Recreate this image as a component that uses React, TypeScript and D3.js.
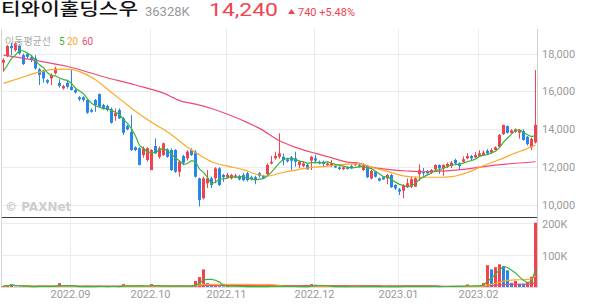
import React from 'react';
import * as d3 from 'd3';

const W = 594;
const H = 304;

const opens = [17520,17870,18400,18190,18400,17920,17980,17800,17750,17170,17090,16600,16690,16960,16460,16160,16460,16250,16080,15690,15690,15550,15020,15550,15860,15280,15230,15060,14700,15020,14580,14170,13870,13050,13000,12640,12380,11850,13120,12550,12640,12940,12910,12910,11760,12590,12470,12910,12820,11410,10360,11150,11410,11410,11940,11590,11470,11410,11500,11530,11590,11680,11470,11470,11680,11530,11640,12200,12470,12550,12550,12420,12520,12470,12120,12060,12120,12350,12470,12290,12290,12120,12060,12060,11990,11890,11990,12060,12120,12110,11850,12060,11410,11760,11410,11470,11410,11590,11060,10830,10760,10970,10970,10970,11640,11760,11790,11710,11890,12120,11940,12030,12060,12380,12200,12290,12470,12590,12520,12590,12640,12870,12770,12910,13080,13750,14170,13820,13870,13820,13910,13610,13050,13310];
const highs = [17750,18450,18570,18600,18500,18000,18050,17900,17920,17250,17150,16650,16950,17300,16650,16350,16550,17130,16150,15750,15750,15600,15100,15600,15900,15350,15300,15150,15100,15100,14650,14250,14750,13100,13050,13100,13050,12950,13520,13100,13300,13000,13000,12950,12350,12650,12900,13000,12900,11450,11500,11850,11500,12000,12000,11650,11700,11650,11650,11600,11700,11750,11550,11550,11750,11600,12200,12600,12820,13790,12720,12500,12600,12820,12350,12300,12200,12600,12650,12350,12350,12250,12380,12100,12050,12050,12050,12150,12250,12200,12200,12120,11850,11800,11450,11500,11650,11650,11100,10900,11100,11400,11500,11500,12150,11960,11850,11900,12150,12150,12150,12250,12330,12450,12250,12570,12740,12650,12800,12900,12880,12960,13000,13100,13750,14250,14200,14000,14050,14000,14000,13650,13560,17130];
const lows = [17040,17820,17920,18100,17950,17400,17750,17550,17150,16340,16460,16400,16340,16900,16200,16100,16150,16050,15880,15500,15450,14820,14880,14930,15150,15050,14950,14300,14450,14550,13700,13950,12850,12850,12100,12500,12300,11850,12700,12450,12600,12500,11800,11700,11500,12150,12350,12600,11450,9920,10300,10900,10900,11150,11000,11230,11400,11350,11450,11300,11250,11250,11300,11100,11450,11380,11600,12150,12400,12450,12100,12250,11850,12030,11950,12000,11850,11850,12200,12150,12000,12050,12000,11950,11850,11850,11880,11900,12050,11990,11800,11430,11350,11450,11250,11330,11100,10900,10800,10530,10360,10900,10900,10950,11280,11550,11600,11650,11850,11650,11550,11950,11950,12150,11850,12250,12420,12380,12470,12550,12600,12650,12720,12880,13050,13700,13780,13780,13820,13500,13400,13150,12900,13250];
const closes = [17660,18400,18290,18540,18010,17450,17830,17660,17220,16870,16690,16480,16870,17220,16290,16290,16250,16080,15950,15580,15550,14880,14930,15280,15190,15110,15020,14350,14850,14580,13820,14000,12910,12910,12120,13000,13000,12910,12730,13000,13260,12550,11850,11760,12290,12240,12820,12640,11500,10270,11410,11410,11060,11940,11060,11470,11590,11590,11560,11360,11320,11320,11360,11320,11530,11430,12120,12290,12590,12730,12380,12310,12340,12290,12290,12200,11890,12550,12350,12200,12170,12200,12200,11990,11910,11990,11910,11960,12200,12030,12110,11470,11810,11500,11290,11360,11590,10940,10880,10710,11060,11150,11360,11410,11850,11680,11680,11850,12120,11940,12120,12170,12240,12200,12060,12420,12590,12470,12640,12730,12770,12730,12910,13050,13700,14230,13820,13950,14000,13950,13440,13220,13500,14240];
const volumes = [3000,5000,9000,1500,1200,2000,1000,1500,1300,5000,1500,1200,1800,5000,12000,1500,1000,2000,1200,1000,1500,2500,1000,1200,2000,1000,800,2500,1500,1200,9000,2000,5000,1500,2500,5000,2000,9000,2000,2500,1800,3000,4500,4000,3500,2000,2500,3000,19000,31000,55000,12000,3000,4000,2500,2000,5000,1500,1000,1200,2000,1500,1000,1200,800,1000,2500,2000,1500,3000,1500,1000,1200,1500,1000,800,1000,9000,7000,1500,1200,1000,1500,800,600,900,700,800,1000,700,1200,2000,1500,1000,800,600,1000,2000,1500,1800,2500,1500,2000,1800,3000,1500,1000,1200,2000,1500,1800,1500,2000,1500,1800,2500,8000,2000,2500,3000,12000,68000,55000,62000,71000,65000,52000,13000,19000,10000,9500,16000,32000,201000];
const priorCloses = [16800, 16540, 17690, 16710];

const ma20Idx = [0,4,8,12,16,19,23,27,30,33,37,40,43,46,49,52,56,60,63,66,69,73,77,81,85,89,92,96,100,104,109,112,116,119,122,125,128,130,133];
const ma20Val = [16430,16700,16970,17150,17180,17050,16620,15950,15450,14950,14370,14000,13560,13050,12650,12290,12060,11870,11640,11530,11680,11850,11990,12060,12150,12180,12000,11780,11540,11470,11470,11500,11720,11990,12250,12480,12760,12900,13170];
const ma60Idx = [0,8,16,25,33,40,44,48,52,56,60,64,69,73,78,81,86,89,92,96,101,105,109,113,117,121,126,133];
const ma60Val = [17920,17640,17320,16780,16340,15910,15520,15330,15100,14800,14450,14050,13400,13050,12730,12560,12270,12200,12000,11890,11800,11760,11790,11850,11940,12060,12170,12290];

const monthIdx = [17, 37, 56, 78, 99, 119];
const monthLabels = ['2022.09', '2022.10', '2022.11', '2022.12', '2023.01', '2023.02'];
const priceTicks = [10000, 12000, 14000, 16000, 18000];
const volTicks = [100000, 200000];
const volTickLabels = ['100K', '200K'];

const RED = '#f2424f';
const BLUE = '#2a86e6';
const GREEN = '#36b536';
const ORANGE = '#ffa928';
const PINK = '#f04a72';
const GRID = '#ececec';
const AXIS_TXT = '#9a9a9a';
const NUM_FONT = 'Roboto, "Noto Sans", sans-serif';
const KR_FONT = '"Noto Sans CJK KR", "Noto Sans", sans-serif';

export default function App() {
  const n = closes.length;
  const x = d3.scaleBand<number>().domain(d3.range(n)).range([1.5, 537.5]).padding(0);
  const bw = x.bandwidth();
  const cx = (i: number) => (x(i) as number) + bw / 2;
  const yP = d3.scaleLinear().domain([9370, 19300]).range([217, 29]);
  const yV = d3.scaleLinear().domain([0, 218750]).range([287, 217]);

  const allCloses = [...priorCloses, ...closes];
  const ma5: [number, number][] = closes.map((_, i) => [i, d3.mean(allCloses.slice(i, i + 5)) as number]);
  const ma20: [number, number][] = ma20Idx.map((d, k) => [d, ma20Val[k]]);
  const ma60: [number, number][] = ma60Idx.map((d, k) => [d, ma60Val[k]]);

  const volMA = (w: number): [number, number][] =>
    volumes.map((_, i) => [i, d3.mean(volumes.slice(Math.max(0, i - w + 1), i + 1)) as number]);

  const lineP = d3.line<[number, number]>().x(d => cx(d[0])).y(d => yP(d[1]));
  const lineSmooth = d3.line<[number, number]>().x(d => cx(d[0])).y(d => yP(d[1])).curve(d3.curveMonotoneX);
  const lineV = d3.line<[number, number]>().x(d => cx(d[0])).y(d => yV(d[1]));

  const gridX = (i: number) => Math.round(x(i) as number) + 0.5;

  return (
    <svg width={W} height={H} style={{ position: 'absolute', left: 0, top: 0, background: '#fff' }}>
      {/* header */}
      <text x={1} y={15} fontFamily={KR_FONT} fontSize={16.5} fontWeight={500} fill="#111" textLength={137} lengthAdjust="spacingAndGlyphs">티와이홀딩스우</text>
      <text x={145} y={15.5} fontFamily={NUM_FONT} fontSize={13} fill="#999">36328K</text>
      <text x={209} y={15.5} fontFamily={NUM_FONT} fontSize={19} fill={RED} textLength={69} lengthAdjust="spacingAndGlyphs">14,240</text>
      <path d="M288,14 L291.5,9 L295,14 Z" fill={RED} />
      <text x={298} y={15.5} fontFamily={NUM_FONT} fontSize={11} fill={RED}>740 +5.48%</text>

      {/* grids */}
      {priceTicks.map(t => (
        <line key={'pg' + t} x1={2} x2={537} y1={Math.round(yP(t)) + 0.5} y2={Math.round(yP(t)) + 0.5} stroke={GRID} />
      ))}
      {volTicks.map(t => (
        <line key={'vg' + t} x1={2} x2={537} y1={Math.round(yV(t)) + 0.5} y2={Math.round(yV(t)) + 0.5} stroke={GRID} />
      ))}
      {monthIdx.map(i => (
        <line key={'mg' + i} x1={gridX(i)} x2={gridX(i)} y1={29} y2={287} stroke={GRID} />
      ))}

      {/* borders */}
      <line x1={1.5} x2={1.5} y1={29} y2={288} stroke="#d4d4d4" />
      <line x1={537.5} x2={537.5} y1={29} y2={288} stroke="#cfcfcf" />
      <line x1={2} x2={537} y1={287.5} y2={287.5} stroke="#dcdcdc" />

      {/* watermark */}
      <text x={5} y={211} fontFamily='"DejaVu Sans", sans-serif' fontSize={12} fontWeight={700} fill="#cdcdcd">© PAXNet</text>

      {/* candles */}
      {closes.map((c, i) => {
        const up = c >= opens[i];
        const col = up ? RED : BLUE;
        const top = yP(Math.max(c, opens[i]));
        const bot = yP(Math.min(c, opens[i]));
        const xc = cx(i);
        return (
          <g key={'c' + i}>
            <line x1={xc} x2={xc} y1={yP(highs[i])} y2={yP(lows[i])} stroke={col} strokeWidth={1} />
            <rect x={xc - 1.5} y={top} width={3} height={Math.max(1, bot - top)} fill={col} />
          </g>
        );
      })}

      {/* price MAs */}
      <path d={lineSmooth(ma60) || ''} fill="none" stroke={PINK} strokeWidth={1.2} />
      <path d={lineSmooth(ma20) || ''} fill="none" stroke={ORANGE} strokeWidth={1.2} />
      <path d={lineP(ma5) || ''} fill="none" stroke={GREEN} strokeWidth={1.2} />

      {/* legend */}
      <text x={5} y={45} fontFamily={KR_FONT} fontSize={10} fill="#aaa">이동평균선</text>
      <text x={59} y={45} fontFamily={NUM_FONT} fontSize={10} fill={GREEN}>5</text>
      <text x={67} y={45} fontFamily={NUM_FONT} fontSize={10} fill={ORANGE}>20</text>
      <text x={82} y={45} fontFamily={NUM_FONT} fontSize={10} fill={PINK}>60</text>

      {/* volume bars */}
      {volumes.map((v, i) => {
        const col = i === 0 || v > volumes[i - 1] ? RED : BLUE;
        return <rect key={'v' + i} x={cx(i) - 1.5} y={yV(v)} width={3} height={287 - yV(v)} fill={col} />;
      })}
      <path d={lineV(volMA(60)) || ''} fill="none" stroke={PINK} strokeWidth={1.2} />
      <path d={lineV(volMA(20)) || ''} fill="none" stroke={ORANGE} strokeWidth={1.2} />
      <path d={lineV(volMA(5)) || ''} fill="none" stroke={GREEN} strokeWidth={1.2} />

      {/* separator */}
      <line x1={2} x2={537} y1={217.5} y2={217.5} stroke="#3a3a3a" />

      {/* right axis labels */}
      {priceTicks.map(t => (
        <text key={'pl' + t} x={542} y={yP(t) + 4} fontFamily={NUM_FONT} fontSize={11} fill={AXIS_TXT}>{d3.format(',')(t)}</text>
      ))}
      {volTicks.map((t, k) => (
        <text key={'vl' + t} x={542} y={yV(t) + 5} fontFamily={NUM_FONT} fontSize={11} fill={AXIS_TXT}>{volTickLabels[k]}</text>
      ))}

      {/* date labels */}
      {monthIdx.map((i, k) => (
        <text key={'ml' + i} x={gridX(i)} y={298} textAnchor="middle" fontFamily={NUM_FONT} fontSize={11} fill={AXIS_TXT}>{monthLabels[k]}</text>
      ))}
    </svg>
  );
}
